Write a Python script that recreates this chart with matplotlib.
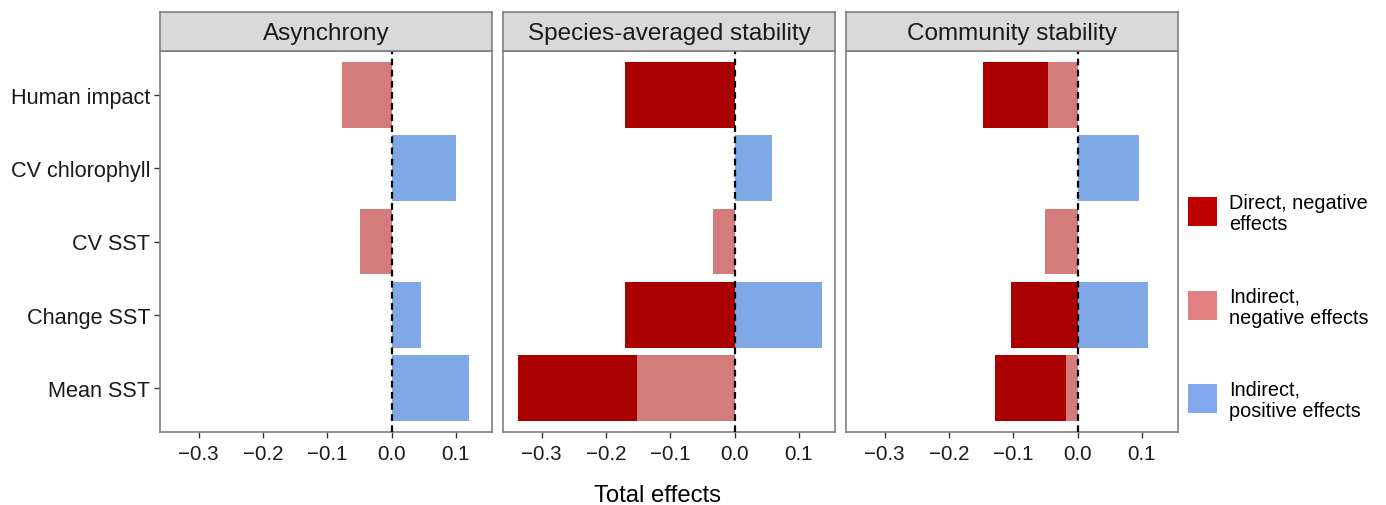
import matplotlib
matplotlib.use("Agg")
import matplotlib.pyplot as plt
from matplotlib.patches import Rectangle
import numpy as np

plt.rcParams['font.family'] = ['Liberation Sans', 'DejaVu Sans']

categories = ["Human impact", "CV chlorophyll", "CV SST", "Change SST", "Mean SST"]
panels = ["Asynchrony", "Species-averaged stability", "Community stability"]

direct_neg = {
    "Asynchrony": [0.0, 0.0, 0.0, 0.0, 0.0],
    "Species-averaged stability": [-0.170, 0.0, 0.0, -0.171, -0.186],
    "Community stability": [-0.101, 0.0, 0.0, -0.103, -0.111],
}
indirect_neg = {
    "Asynchrony": [-0.077, 0.0, -0.049, 0.0, 0.0],
    "Species-averaged stability": [0.0, 0.0, -0.034, 0.0, -0.151],
    "Community stability": [-0.046, 0.0, -0.050, 0.0, -0.018],
}
indirect_pos = {
    "Asynchrony": [0.0, 0.100, 0.0, 0.046, 0.121],
    "Species-averaged stability": [0.0, 0.058, 0.0, 0.136, 0.0],
    "Community stability": [0.0, 0.095, 0.0, 0.110, 0.0],
}
xticks = [-0.3, -0.2, -0.1, 0.0, 0.1]
xticklabels = ["\u22120.3", "\u22120.2", "\u22120.1", "0.0", "0.1"]
legend_labels = ["Direct, negative\neffects", "Indirect,\nnegative effects", "Indirect,\npositive effects"]

col_direct = "#AA0000"
col_ind_neg = "#D47C7C"
col_ind_pos = "#7FA8E7"
leg_colors = ["#C00000", "#E08080", "#82A9EE"]

W, H = 1386, 506
fig = plt.figure(figsize=(W / 100, H / 100), dpi=100)

lefts = [160, 503, 846]
pw = 332
top, bottom = 52, 433
strip_top = 13
border_col = "#7F7F7F"
tick_col = "#333333"

tick_fs = 14.8
ylab_fs = 15.6
strip_fs = 17.5
y = np.arange(len(categories))
for i, p in enumerate(panels):
    ax = fig.add_axes([lefts[i] / W, 1 - bottom / H, pw / W, (bottom - top) / H])
    d = np.array(direct_neg[p])
    n = np.array(indirect_neg[p])
    pos = np.array(indirect_pos[p])
    ax.barh(y, n, height=0.9, color=col_ind_neg, zorder=2)
    ax.barh(y, d, left=n, height=0.9, color=col_direct, zorder=2)
    ax.barh(y, pos, height=0.9, color=col_ind_pos, zorder=2)
    ax.axvline(0, color="black", linestyle=(0, (3, 2)), linewidth=1.6, zorder=3)
    ax.set_xlim(-0.36, 0.156)
    ax.set_ylim(len(categories) - 0.4, -0.6)
    ax.set_xticks(xticks)
    ax.set_xticklabels(xticklabels, fontsize=tick_fs, color="#1A1A1A")
    ax.set_yticks(y)
    if i == 0:
        ax.set_yticklabels(categories, fontsize=ylab_fs, color="#1A1A1A")
        ax.tick_params(axis="y", length=4, width=1, color=tick_col, pad=3)
    else:
        ax.set_yticklabels([])
        ax.tick_params(axis="y", length=0)
    ax.tick_params(axis="x", length=4, width=1, color=tick_col, pad=5)
    for s in ax.spines.values():
        s.set_color(border_col)
        s.set_linewidth(1.2)
    sax = fig.add_axes([lefts[i] / W, 1 - top / H, pw / W, (top - strip_top) / H])
    sax.set_facecolor("#D9D9D9")
    sax.set_xticks([])
    sax.set_yticks([])
    for s in sax.spines.values():
        s.set_color(border_col)
        s.set_linewidth(1.2)
    sax.text(0.5, 0.47, p, ha="center", va="center", fontsize=strip_fs, color="#1A1A1A",
             transform=sax.transAxes)

fig.text(658 / W, 1 - 502 / H, "Total effects", ha="center", va="baseline",
         fontsize=17.2, color="black")

# legend (drawn manually)
key_x0, key_w, key_h = 1188, 29, 29
key_centers = [212, 306, 399]
for c, lab, yc in zip(leg_colors, legend_labels, key_centers):
    fig.add_artist(Rectangle((key_x0 / W, 1 - (yc + key_h / 2) / H), key_w / W, key_h / H,
                             transform=fig.transFigure, facecolor=c, edgecolor="none"))
    fig.text(1229 / W, 1 - (yc + 2) / H, lab, ha="left", va="center", fontsize=14.3,
             linespacing=1.15, color="black")

fig.savefig("out.png", dpi=100)
